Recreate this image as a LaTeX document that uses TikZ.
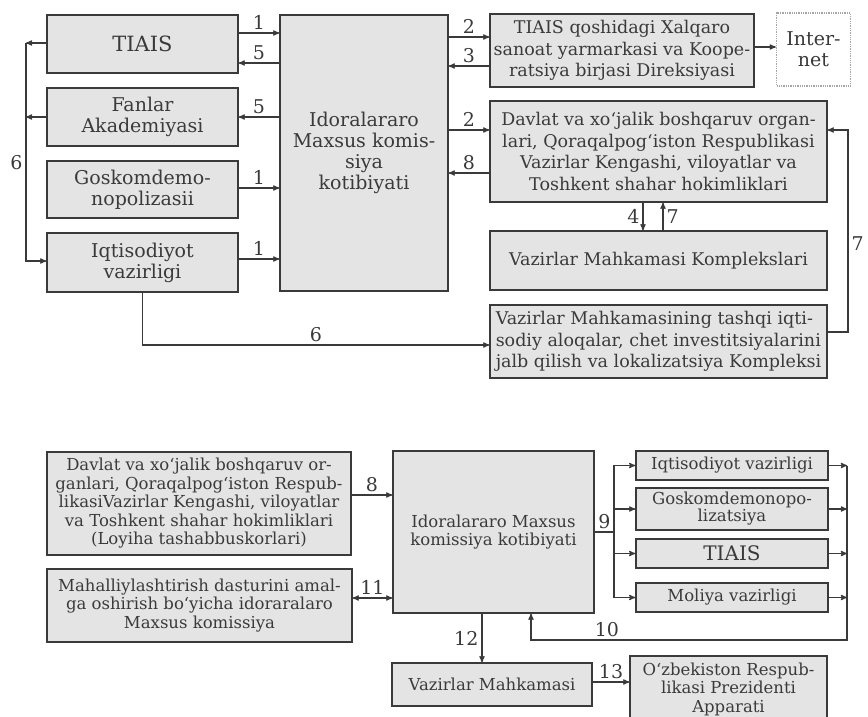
\documentclass[tikz,border=0pt]{standalone}
\usepackage{fontspec}
\setmainfont{DejaVu Serif}
\usetikzlibrary{arrows}

\definecolor{chiziq}{HTML}{3A3A3A}
\definecolor{fon}{HTML}{E4E4E4}
\newcommand{\katta}{\fontsize{19}{21}\selectfont}
\newcommand{\orta}{\fontsize{17.5}{21.5}\selectfont}
\newcommand{\kichik}{\fontsize{16.5}{18.5}\selectfont}

\tikzset{
  blok/.style={draw=chiziq, fill=fon, line width=1.3pt, align=center,
               inner sep=0pt, text=chiziq},
  raqam/.style={font=\fontsize{19}{19}\selectfont, text=chiziq, inner sep=3pt},
}

\begin{document}
\begin{tikzpicture}[x=1pt, y=-1pt, >=stealth', line width=1.2pt, draw=chiziq]
\useasboundingbox (0,0) rectangle (868,716);

% Yuqori sxema: bloklar
\node[blok, minimum width=191, minimum height=58, font=\fontsize{21}{23}\selectfont] (tiais) at (142.5,44) {TIAIS};
\node[blok, minimum width=191, minimum height=58, font=\katta] (fanlar) at (142.5,117) {Fanlar\\Akademiyasi};
\node[blok, minimum width=191, minimum height=57, font=\katta] (gosk) at (142.5,189.5) {Goskomdemo-\\nopolizasii};
\node[blok, minimum width=191, minimum height=59, font=\katta] (iqtis) at (142.5,262.5) {Iqtisodiyot\\vazirligi};
\node[blok, minimum width=168, minimum height=276, font=\katta] (komis) at (364,153)
  {Idoralararo\\Maxsus komis-\\siya\\kotibiyati};
\node[blok, minimum width=264, minimum height=73, font=\orta] (tiaisq) at (622,50.5)
  {TIAIS qoshidagi Xalqaro\\sanoat yarmarkasi va Koope-\\ratsiya birjasi Direksiyasi};
\node[blok, draw=chiziq!45, densely dotted, fill=white, minimum width=74, minimum height=73,
      font=\katta] (inet) at (813.5,49.5) {Inter-\\net};
\node[blok, minimum width=337, minimum height=101, font=\orta] (davlat) at (658.5,151.5)
  {Davlat va xo‘jalik boshqaruv organ-\\lari, Qoraqalpog‘iston Respublikasi\\Vazirlar Kengashi, viloyatlar va\\Toshkent shahar hokimliklari};
\node[blok, minimum width=337, minimum height=59, font=\orta] (vmk) at (658.5,260.5) {Vazirlar Mahkamasi Komplekslari};
\node[blok, minimum width=337, minimum height=73, font=\orta, align=left] (vmtash) at (658.5,341.5)
  {Vazirlar Mahkamasining tashqi iqti-\\sodiy aloqalar, chet investitsiyalarini\\jalb qilish va lokalizatsiya Kompleksi};

% Yuqori sxema: aloqalar
\draw[->] (tiais.east |- 0,33) -- node[raqam, above] {1} (komis.west |- 0,33);
\draw[->] (komis.west |- 0,63) -- node[raqam, above] {5} (tiais.east |- 0,63);
\draw[->] (komis.west |- fanlar.east) -- node[raqam, above] {5} (fanlar.east);
\draw[->] (gosk.east |- 0,188) -- node[raqam, above] {1} (komis.west |- 0,188);
\draw[->] (iqtis.east |- 0,259) -- node[raqam, above] {1} (komis.west |- 0,259);
\draw[->] (komis.east |- 0,37) -- node[raqam, above] {2} (tiaisq.west |- 0,37);
\draw[->] (tiaisq.west |- 0,66) -- node[raqam, above] {3} (komis.east |- 0,66);
\draw[->] (tiaisq.east |- 0,47) -- (inet.west |- 0,47);
\draw[->] (komis.east |- 0,130) -- node[raqam, above] {2} (davlat.west |- 0,130);
\draw[->] (davlat.west |- 0,173) -- node[raqam, above] {8} (komis.east |- 0,173);
\draw[->] (davlat.south -| 643,0) -- node[raqam, left] {4} (vmk.north -| 643,0);
\draw[->] (vmk.north -| 663,0) -- node[raqam, right] {7} (davlat.south -| 663,0);

\coordinate (burchak7) at (848,130);
\draw[->] (vmtash.east |- 0,332) -| node[raqam, pos=0.72, right] {7} (burchak7) -- (davlat.east |- burchak7);

\coordinate (yuqori6) at (26,43);
\coordinate (quyi6) at (26,261);
\draw[->] (tiais.west |- yuqori6) -- (yuqori6);
\draw[->] (fanlar.west) -- (fanlar.west -| yuqori6);
\draw[->] (yuqori6) -- node[raqam, pos=0.55, left] {6} (quyi6) -- (iqtis.west |- quyi6);
\draw[->] (iqtis.south) |- node[raqam, pos=0.75, above] {6} (vmtash.west |- 0,345);

% Quyi sxema: bloklar
\node[blok, minimum width=304, minimum height=103, font=\kichik] (dav2) at (199,503.5)
  {Davlat va xo‘jalik boshqaruv or-\\ganlari, Qoraqalpog‘iston Respub-\\likasiVazirlar Kengashi, viloyatlar\\va Toshkent shahar hokimliklari\\(Loyiha tashabbuskorlari)};
\node[blok, minimum width=305, minimum height=73, font=\kichik] (mahal) at (199.5,605.5)
  {Mahalliylashtirish dasturini amal-\\ga oshirish bo‘yicha idoraralaro\\Maxsus komissiya};
\node[blok, minimum width=201, minimum height=162, font=\kichik] (komis2) at (493.5,532)
  {Idoralararo Maxsus\\komissiya kotibiyati};
\node[blok, minimum width=192, minimum height=29, font=\kichik] (iqt2) at (732,465.5) {Iqtisodiyot vazirligi};
\node[blok, minimum width=192, minimum height=42, font=\fontsize{16.5}{15}\selectfont] (gosk2) at (732,509) {Goskomdemonopo-\\lizatsiya};
\node[blok, minimum width=192, minimum height=29, font=\fontsize{20}{20}\selectfont] (tiais2) at (732,553.5) {TIAIS};
\node[blok, minimum width=192, minimum height=29, font=\kichik] (moliya) at (732,597.5) {Moliya vazirligi};
\node[blok, minimum width=200, minimum height=43, font=\kichik] (vm) at (492,684.5) {Vazirlar Mahkamasi};
\node[blok, minimum width=197, minimum height=66, font=\kichik] (prez) at (728.5,689)
  {O‘zbekiston Respub-\\likasi Prezidenti\\Apparati};

% Quyi sxema: aloqalar
\draw[->] (dav2.east |- 0,495) -- node[raqam, above] {8} (komis2.west |- 0,495);
\draw[<->] (mahal.east |- 0,598) -- node[raqam, above] {11} (komis2.west |- 0,598);

\coordinate (tugun9) at (614,532);
\draw (komis2.east |- tugun9) -- node[raqam, above] {9} (tugun9);
\draw[->] (tugun9) |- (iqt2.west);
\draw[->] (tugun9) |- (gosk2.west);
\draw[->] (tugun9) |- (tiais2.west);
\draw[->] (tugun9) |- (moliya.west);

\coordinate (tugun10) at (847,640);
\draw[->] (iqt2.east) -- (iqt2.east -| tugun10);
\draw[->] (gosk2.east) -- (gosk2.east -| tugun10);
\draw[->] (tiais2.east) -- (tiais2.east -| tugun10);
\draw[->] (moliya.east) -- (moliya.east -| tugun10);
\draw[->] (iqt2.east -| tugun10) -- (tugun10) -| node[raqam, pos=0.38, above] {10} (komis2.south -| 531,0);

\draw[->] (komis2.south -| 482,0) -- node[raqam, left] {12} (vm.north -| 482,0);
\draw[->] (vm.east |- 0,682) -- node[raqam, above] {13} (prez.west |- 0,682);
\end{tikzpicture}
\end{document}
